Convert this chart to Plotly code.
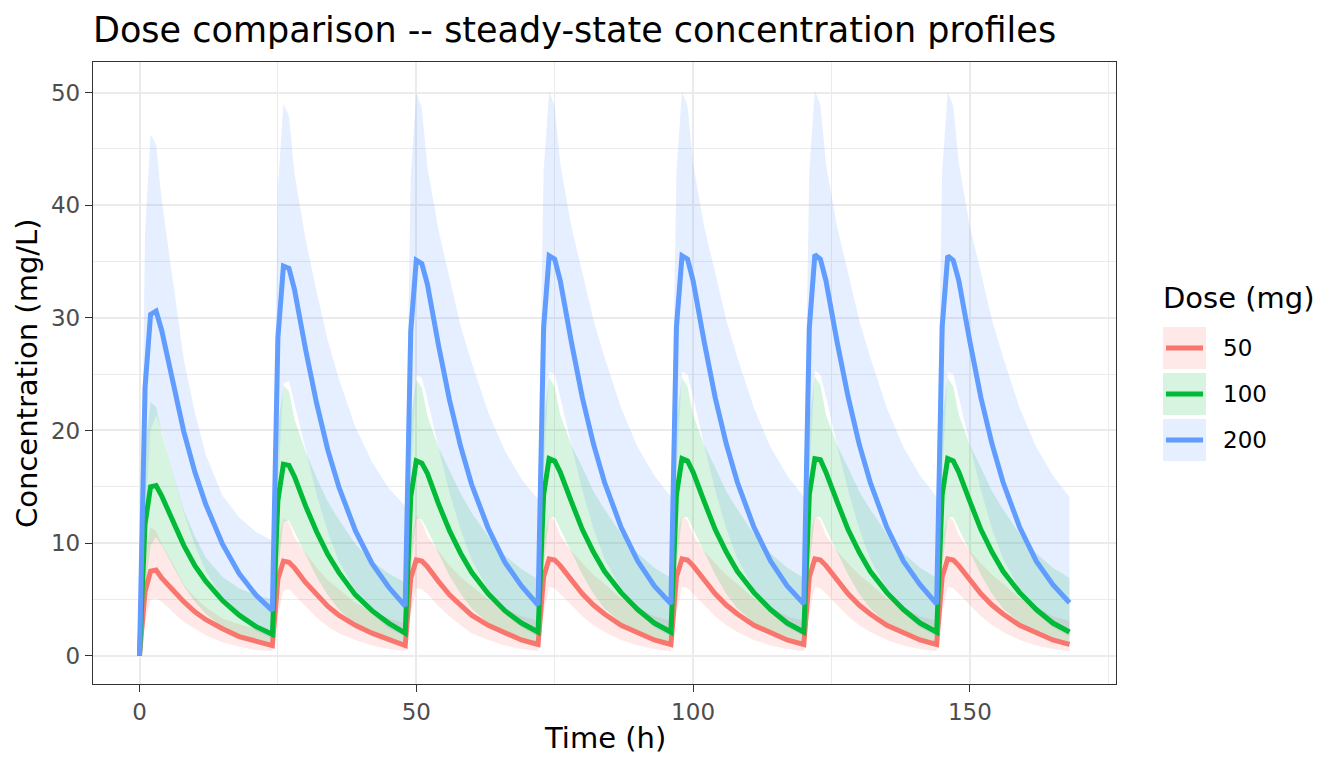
import plotly.graph_objs as go

# sampling times (h), 24 h dosing interval
time_h = [0, 1, 2, 3, 4, 6, 8, 10, 12, 15, 18, 21,
          24, 25, 26, 27, 28, 30, 32, 34, 36, 39, 42, 45,
          48, 49, 50, 51, 52, 54, 56, 58, 60, 63, 66, 69,
          72, 73, 74, 75, 76, 78, 80, 82, 84, 87, 90, 93,
          96, 97, 98, 99, 100, 102, 104, 106, 108, 111, 114, 117,
          120, 121, 122, 123, 124, 126, 128, 130, 132, 135, 138, 141,
          144, 145, 146, 147, 148, 150, 152, 154, 156, 159, 162, 165,
          168]

# 50 mg: median and 90% interval (mg/L)
med_50 = [0, 5.7, 7.5, 7.6, 6.9, 5.8, 4.8, 3.9, 3.2, 2.4, 1.7, 1.3,
          0.9, 6.8, 8.4, 8.3, 7.8, 6.5, 5.4, 4.4, 3.6, 2.7, 2.0, 1.4,
          0.9, 6.9, 8.5, 8.4, 7.9, 6.6, 5.4, 4.5, 3.6, 2.7, 2.0, 1.4,
          1.0, 7.0, 8.6, 8.5, 8.0, 6.7, 5.5, 4.5, 3.7, 2.7, 2.0, 1.4,
          1.0, 7.0, 8.6, 8.5, 8.0, 6.7, 5.5, 4.5, 3.7, 2.7, 2.0, 1.4,
          1.0, 7.0, 8.6, 8.5, 8.0, 6.7, 5.5, 4.5, 3.7, 2.7, 2.0, 1.4,
          1.0, 7.0, 8.6, 8.5, 8.0, 6.7, 5.5, 4.5, 3.7, 2.7, 2.0, 1.4,
          1.0]
hi_50 = [0, 9.2, 11.4, 11.1, 9.9, 8.2, 6.3, 5.2, 4.3, 3.3, 2.8, 2.4,
         2.2, 10.2, 12.2, 11.8, 10.5, 9.1, 7.8, 6.7, 5.9, 4.7, 4.0, 3.3,
         2.9, 10.4, 12.4, 11.9, 10.6, 9.3, 8.0, 7.0, 6.2, 5.0, 4.2, 3.5,
         3.1, 10.5, 12.4, 12.0, 10.7, 9.3, 8.2, 7.2, 6.4, 5.1, 4.3, 3.5,
         3.1, 10.5, 12.4, 12.0, 10.7, 9.3, 8.2, 7.2, 6.4, 5.1, 4.3, 3.5,
         3.1, 10.5, 12.4, 12.0, 10.7, 9.3, 8.2, 7.2, 6.4, 5.1, 4.3, 3.5,
         3.1, 10.5, 12.4, 12.0, 10.7, 9.3, 8.2, 7.2, 6.4, 5.1, 4.3, 3.5,
         3.1]
lo_50 = [0, 2.9, 5.0, 5.1, 4.8, 3.9, 3.0, 2.4, 1.8, 1.2, 0.8, 0.5,
         0.4, 3.6, 5.8, 5.9, 5.4, 4.4, 3.4, 2.6, 2.0, 1.4, 0.9, 0.6,
         0.4, 3.8, 6.0, 5.9, 5.5, 4.4, 3.5, 2.7, 2.0, 1.4, 0.9, 0.6,
         0.4, 3.8, 6.1, 6.0, 5.5, 4.5, 3.5, 2.7, 2.1, 1.4, 0.9, 0.6,
         0.4, 3.8, 6.1, 6.0, 5.5, 4.5, 3.5, 2.7, 2.1, 1.4, 0.9, 0.6,
         0.4, 3.8, 6.1, 6.0, 5.5, 4.5, 3.5, 2.7, 2.1, 1.4, 0.9, 0.6,
         0.4, 3.8, 6.1, 6.0, 5.5, 4.5, 3.5, 2.7, 2.1, 1.4, 0.9, 0.6,
         0.4]

# 100 mg
med_100 = [0, 11.7, 15.0, 15.1, 14.2, 11.9, 9.8, 8.0, 6.6, 4.9, 3.6, 2.6,
           1.9, 13.8, 17.0, 16.9, 15.9, 13.3, 11.0, 9.0, 7.4, 5.4, 4.0, 2.9,
           2.0, 14.1, 17.3, 17.1, 16.2, 13.5, 11.1, 9.1, 7.4, 5.5, 4.0, 2.9,
           2.1, 14.3, 17.5, 17.3, 16.3, 13.7, 11.2, 9.2, 7.5, 5.6, 4.1, 2.9,
           2.1, 14.3, 17.5, 17.3, 16.3, 13.7, 11.2, 9.2, 7.5, 5.6, 4.1, 2.9,
           2.1, 14.3, 17.5, 17.4, 16.3, 13.7, 11.2, 9.2, 7.5, 5.6, 4.1, 2.9,
           2.1, 14.3, 17.5, 17.3, 16.3, 13.7, 11.2, 9.2, 7.5, 5.6, 4.1, 2.9,
           2.1]
hi_100 = [0, 18.4, 22.5, 22.1, 19.8, 16.4, 12.9, 10.6, 8.7, 7.0, 6.0, 5.4,
          5.0, 20.3, 24.0, 23.5, 21.0, 18.1, 15.8, 13.7, 12.1, 9.9, 8.4, 7.3,
          6.5, 20.8, 24.5, 23.8, 21.3, 18.5, 16.4, 14.4, 12.7, 10.6, 8.9, 7.7,
          6.8, 21.1, 24.7, 23.9, 21.4, 18.7, 16.7, 14.6, 13.0, 10.8, 9.1, 7.8,
          6.9, 21.1, 24.7, 23.9, 21.4, 18.7, 16.7, 14.6, 13.0, 10.8, 9.1, 7.8,
          6.9, 21.1, 24.8, 24.0, 21.4, 18.7, 16.7, 14.6, 13.0, 10.8, 9.1, 7.8,
          6.9, 21.1, 24.7, 23.9, 21.4, 18.7, 16.7, 14.6, 13.0, 10.8, 9.1, 7.8,
          6.9]
lo_100 = [0, 5.8, 9.8, 10.5, 9.8, 8.0, 6.2, 4.8, 3.7, 2.5, 1.6, 1.1,
          0.7, 7.3, 11.9, 12.0, 11.0, 8.9, 7.0, 5.4, 4.1, 2.8, 1.8, 1.2,
          0.8, 7.7, 12.2, 12.1, 11.2, 9.1, 7.1, 5.5, 4.2, 2.9, 1.8, 1.2,
          0.8, 7.8, 12.3, 12.3, 11.3, 9.2, 7.2, 5.5, 4.2, 2.9, 1.9, 1.2,
          0.8, 7.8, 12.3, 12.3, 11.3, 9.2, 7.2, 5.5, 4.2, 2.9, 1.9, 1.2,
          0.8, 7.8, 12.3, 12.3, 11.3, 9.2, 7.2, 5.5, 4.2, 2.9, 1.9, 1.2,
          0.8, 7.8, 12.3, 12.3, 11.3, 9.2, 7.2, 5.5, 4.2, 2.9, 1.9, 1.2,
          0.8]

# 200 mg
med_200 = [0, 23.8, 30.3, 30.6, 28.9, 24.3, 19.9, 16.3, 13.4, 9.9, 7.3, 5.4,
           4.0, 28.2, 34.6, 34.4, 32.5, 27.2, 22.4, 18.3, 15.0, 11.1, 8.2, 6.1,
           4.4, 28.8, 35.1, 34.8, 33.0, 27.6, 22.7, 18.6, 15.2, 11.3, 8.3, 6.2,
           4.5, 29.1, 35.5, 35.2, 33.3, 27.9, 22.9, 18.8, 15.4, 11.4, 8.4, 6.2,
           4.6, 29.2, 35.5, 35.2, 33.3, 27.9, 22.9, 18.8, 15.4, 11.4, 8.4, 6.2,
           4.6, 29.1, 35.6, 35.2, 33.3, 27.9, 23.0, 18.8, 15.4, 11.4, 8.4, 6.3,
           4.6, 29.2, 35.5, 35.1, 33.3, 27.9, 22.9, 18.8, 15.4, 11.4, 8.4, 6.3,
           4.7]
hi_200 = [0, 37.5, 46.3, 45.4, 40.5, 33.5, 26.3, 21.6, 17.8, 14.2, 12.3, 11.0,
          10.2, 41.5, 49.0, 47.9, 42.8, 37.0, 32.3, 28.0, 24.6, 20.3, 17.2, 14.9,
          13.3, 42.5, 50.0, 48.6, 43.4, 37.8, 33.5, 29.3, 26.0, 21.6, 18.2, 15.7,
          13.9, 43.0, 50.1, 48.8, 43.7, 38.1, 34.0, 29.8, 26.5, 22.0, 18.5, 16.0,
          14.1, 43.0, 50.1, 48.8, 43.7, 38.1, 34.0, 29.8, 26.5, 22.0, 18.5, 16.0,
          14.1, 43.1, 50.2, 48.9, 43.7, 38.1, 34.0, 29.8, 26.5, 22.0, 18.5, 16.0,
          14.1, 43.0, 50.1, 48.8, 43.7, 38.1, 34.0, 29.8, 26.5, 22.0, 18.5, 16.0,
          14.1]
lo_200 = [0, 11.9, 20.0, 21.4, 19.9, 16.3, 12.7, 9.8, 7.5, 5.1, 3.3, 2.2,
          1.5, 14.9, 24.2, 24.4, 22.4, 18.2, 14.3, 11.0, 8.4, 5.8, 3.7, 2.4,
          1.7, 15.8, 24.9, 24.7, 22.8, 18.5, 14.5, 11.2, 8.5, 5.9, 3.7, 2.5,
          1.7, 16.0, 25.2, 25.0, 23.0, 18.7, 14.7, 11.3, 8.6, 5.9, 3.8, 2.5,
          1.7, 16.0, 25.2, 25.0, 23.0, 18.7, 14.7, 11.3, 8.6, 5.9, 3.8, 2.5,
          1.7, 16.0, 25.3, 25.0, 23.0, 18.7, 14.7, 11.3, 8.6, 5.9, 3.8, 2.5,
          1.7, 16.0, 25.2, 25.0, 23.0, 18.7, 14.7, 11.3, 8.6, 5.9, 3.8, 2.5,
          1.7]

doses = ["50", "100", "200"]
x_ticks = [0, 50, 100, 150]
y_ticks = [0, 10, 20, 30, 40, 50]

series = {
    "50": (med_50, lo_50, hi_50),
    "100": (med_100, lo_100, hi_100),
    "200": (med_200, lo_200, hi_200),
}
line_colors = {"50": "#F8766D", "100": "#00BA38", "200": "#619CFF"}
fill_colors = {"50": "rgba(248,118,109,0.16)",
               "100": "rgba(0,186,56,0.16)",
               "200": "rgba(97,156,255,0.16)"}

FONT = "DejaVu Sans"

# figure is drawn 8 px inside the page (body margin)
W, H, OFF = 1328, 752, 8
P_LEFT, P_RIGHT, P_TOP, P_BOTTOM = 93, 1116, 62, 684


def px(x):
    # page pixel -> paper x
    return (x - P_LEFT) / (P_RIGHT - P_LEFT)


def py(y):
    # page pixel -> paper y
    return (P_BOTTOM - y) / (P_BOTTOM - P_TOP)


fig = go.Figure()

# ribbons first
for d in doses:
    med, lo, hi = series[d]
    fig.add_trace(go.Scatter(x=time_h, y=lo, mode="lines", line=dict(width=0),
                             showlegend=False, hoverinfo="skip"))
    fig.add_trace(go.Scatter(x=time_h, y=hi, mode="lines", line=dict(width=0),
                             fill="tonexty", fillcolor=fill_colors[d],
                             showlegend=False, hoverinfo="skip"))

# median lines on top
for d in doses:
    med, lo, hi = series[d]
    fig.add_trace(go.Scatter(x=time_h, y=med, mode="lines", name=d,
                             line=dict(color=line_colors[d], width=5),
                             showlegend=False))

# hand-made legend (ggplot style keys)
shapes = []
annotations = []
key_tops = [327, 373, 419]
for d, top in zip(doses, key_tops):
    shapes.append(dict(type="rect", xref="paper", yref="paper",
                       x0=px(1163), x1=px(1206), y0=py(top), y1=py(top + 42),
                       fillcolor=fill_colors[d], line=dict(width=0)))
    shapes.append(dict(type="line", xref="paper", yref="paper",
                       x0=px(1166), x1=px(1203), y0=py(top + 21), y1=py(top + 21),
                       line=dict(color=line_colors[d], width=5)))
    annotations.append(dict(text=d, xref="paper", yref="paper",
                            x=px(1221), y=py(top + 21), xanchor="left", yanchor="middle",
                            showarrow=False, font=dict(family=FONT, size=23, color="black")))

annotations.append(dict(text="Dose (mg)", xref="paper", yref="paper",
                        x=px(1161), y=py(298), xanchor="left", yanchor="middle",
                        showarrow=False, font=dict(family=FONT, size=29, color="black")))
annotations.append(dict(text="Time (h)", xref="paper", yref="paper",
                        x=0.5, y=py(738), xanchor="center", yanchor="middle",
                        showarrow=False, font=dict(family=FONT, size=29, color="black")))
annotations.append(dict(text="Concentration (mg/L)", xref="paper", yref="paper",
                        x=px(27), y=0.5, xanchor="center", yanchor="middle", textangle=-90,
                        showarrow=False, font=dict(family=FONT, size=29, color="black")))

axis_style = dict(
    showgrid=True, gridcolor="#EBEBEB", gridwidth=2, zeroline=False,
    showline=True, mirror=True, linecolor="#333333", linewidth=1.3,
    ticks="outside", ticklen=7, tickwidth=1.3, tickcolor="#333333",
    tickfont=dict(family=FONT, size=23, color="#4D4D4D"),
)

fig.update_layout(
    width=W, height=H,
    margin=dict(l=P_LEFT - OFF, r=W + OFF - P_RIGHT, t=P_TOP - OFF, b=H + OFF - P_BOTTOM),
    paper_bgcolor="white", plot_bgcolor="white",
    showlegend=False,
    title=dict(text="Dose comparison -- steady-state concentration profiles",
               xref="container", x=(P_LEFT - OFF) / W, xanchor="left",
               y=1 - (30 - OFF) / H, yanchor="middle",
               font=dict(family=FONT, size=35, color="black")),
    xaxis=dict(range=[-8.4, 176.4], tickvals=x_ticks,
               minor=dict(dtick=25, tick0=25, showgrid=True, gridcolor="#EBEBEB", gridwidth=1, ticks=""),
               **axis_style),
    yaxis=dict(range=[-2.51, 52.71], tickvals=y_ticks,
               minor=dict(dtick=5, tick0=5, showgrid=True, gridcolor="#EBEBEB", gridwidth=1, ticks=""),
               **axis_style),
    shapes=shapes,
    annotations=annotations,
)

fig.write_html("out.html")
